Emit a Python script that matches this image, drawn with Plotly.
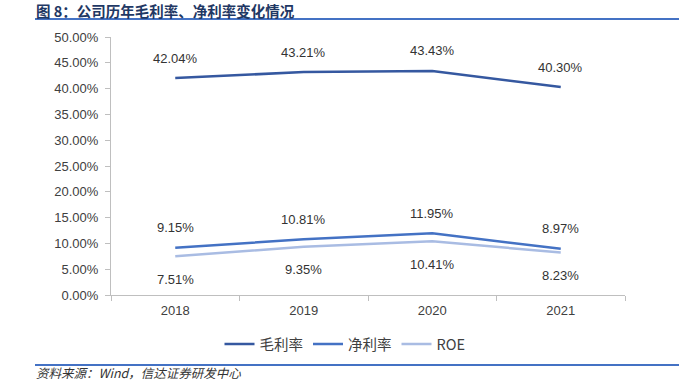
import plotly.graph_objects as go

years = ["2018", "2019", "2020", "2021"]
gross = [0.4204, 0.4321, 0.4343, 0.4030]
net = [0.0915, 0.1081, 0.1195, 0.0897]
roe = [0.0751, 0.0935, 0.1041, 0.0823]

W, H = 679, 382
L, R, T, B = 111, 625, 37, 295

def px(x):
    return (x - L) / (R - L)

def py(y):
    return (B - y) / (B - T)

fig = go.Figure()
series = [("毛利率", gross, "#3558A0", 20),
          ("净利率", net, "#4472C4", 20),
          ("ROE", roe, "#A9BCE3", -23)]
for name, vals, col, shift in series:
    fig.add_trace(go.Scatter(x=years, y=vals, name=name, mode="lines",
                             line=dict(color=col, width=2.5)))
    for i, v in enumerate(vals):
        fig.add_annotation(x=i, y=v, text=f"{v*100:.2f}%", showarrow=False,
                           yshift=shift, font=dict(size=13, color="#333333",
                                                   family="Liberation Sans"))

# title
fig.add_annotation(xref="paper", yref="paper", x=px(35), y=py(10), xanchor="left",
                   yanchor="middle", text="<b>图 8：公司历年毛利率、净利率变化情况</b>",
                   showarrow=False, borderpad=0,
                   font=dict(size=14.5, color="#1F3864", family="Noto Sans CJK SC"))
fig.add_shape(type="line", xref="paper", yref="paper", x0=px(35), x1=px(679),
              y0=py(19), y1=py(19), line=dict(color="#4472C4", width=2))
# footer
fig.add_shape(type="line", xref="paper", yref="paper", x0=px(35), x1=px(679),
              y0=py(365), y1=py(365), line=dict(color="#4472C4", width=2))
fig.add_annotation(xref="paper", yref="paper", x=px(35), y=py(372), xanchor="left",
                   yanchor="middle", text="<i>资料来源：Wind，信达证券研发中心</i>",
                   showarrow=False, borderpad=0,
                   font=dict(size=12.5, color="#333333", family="Noto Sans CJK SC"))

fig.update_layout(
    width=W, height=H,
    margin=dict(l=L, r=W - R, t=T, b=H - B, autoexpand=False),
    paper_bgcolor="white", plot_bgcolor="white",
    font=dict(family="Liberation Sans", size=13, color="#404040"),
    showlegend=True,
    legend=dict(orientation="h", xanchor="center", x=px(345), yanchor="middle",
                y=py(344), font=dict(size=14.5, color="#404040",
                                     family="Noto Sans CJK SC"),
                itemwidth=30),
    xaxis=dict(type="category", range=[-0.5, 3.5], showline=True, automargin=False,
               linecolor="#BFBFBF", linewidth=1,
               ticks="outside", ticklen=5, tickcolor="#BFBFBF", tickson="boundaries",
               ticklabelstandoff=3,
               showgrid=False, tickfont=dict(size=13, color="#404040")),
    yaxis=dict(range=[0, 0.5], dtick=0.05, tickformat=".2%", showline=True,
               automargin=False, ticklabelstandoff=4,
               linecolor="#BFBFBF", linewidth=1, ticks="outside", ticklen=5,
               tickcolor="#BFBFBF", showgrid=False, zeroline=False,
               tickfont=dict(size=13, color="#404040")),
)

fig.write_html("out.html", config={"displayModeBar": False},
               post_script="document.body.style.margin='0';document.body.style.overflow='hidden';")
